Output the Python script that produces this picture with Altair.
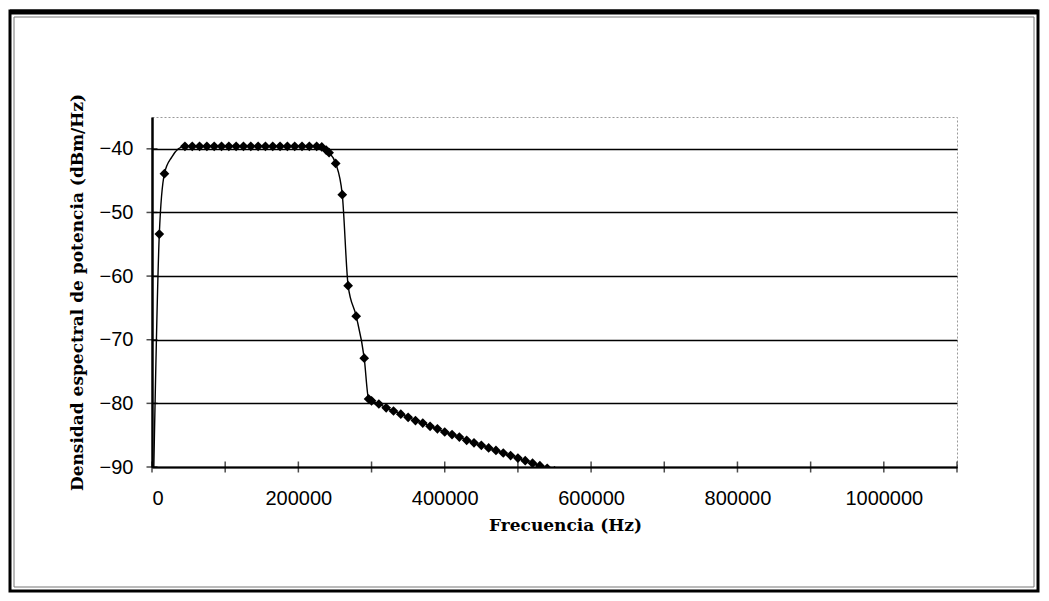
import altair as alt
import pandas as pd

# Measured points (with diamond markers)
freq_hz = [10000, 17000,
           45000, 55000, 65000, 75000, 85000, 95000, 105000, 115000, 125000, 135000,
           145000, 155000, 165000, 175000, 185000, 195000, 205000, 215000, 225000,
           232000, 238000, 242000, 251000, 260000, 268000, 279000, 290000, 296000,
           300000, 310000, 320000, 330000, 340000, 350000, 360000, 370000, 380000,
           390000, 400000, 410000, 420000, 430000, 440000, 450000, 460000, 470000,
           480000, 490000, 500000, 510000, 520000, 530000, 540000, 550000]
psd_dbm = [-53.4, -43.9,
           -39.6, -39.6, -39.6, -39.6, -39.6, -39.6, -39.6, -39.6, -39.6, -39.6,
           -39.6, -39.6, -39.6, -39.6, -39.6, -39.6, -39.6, -39.6, -39.6,
           -39.7, -40.2, -40.6, -42.3, -47.2, -61.5, -66.3, -72.9, -79.3,
           -79.6, -80.1, -80.7, -81.2, -81.7, -82.2, -82.7, -83.1, -83.6,
           -84.0, -84.5, -84.9, -85.3, -85.8, -86.2, -86.6, -87.0, -87.4,
           -87.8, -88.2, -88.6, -89.0, -89.4, -89.8, -90.2, -90.6]

# Points of the smoothed curve that carry no marker
curve_freq = [1500, 27000, 36000]
curve_psd = [-96.0, -41.3, -40.0]

x_tick_values = [0, 100000, 200000, 300000, 400000, 500000, 600000, 700000,
                 800000, 900000, 1000000, 1100000]
x_label_values = [0, 200000, 400000, 600000, 800000, 1000000]
y_tick_values = [-90, -80, -70, -60, -50, -40]

X_DOMAIN = [0, 1100000]
Y_DOMAIN = [-90, -35]

W, H = 805, 350

pts = pd.DataFrame({"f": freq_hz, "p": psd_dbm})
curve = pd.concat([pts, pd.DataFrame({"f": curve_freq, "p": curve_psd})]).sort_values("f")

xs = alt.Scale(domain=X_DOMAIN, nice=False, zero=False)
ys = alt.Scale(domain=Y_DOMAIN, nice=False, zero=False)

x_axis = alt.Axis(values=x_label_values, format="d", ticks=False, grid=False,
                  domainColor="black", domainWidth=2, labelFont="Liberation Sans",
                  labelFontSize=20, labelColor="black", labelPadding=21,
                  title="Frecuencia (Hz)", titleFont="DejaVu Serif", titleFontSize=17,
                  titleFontWeight="bold", titleColor="black", titleX=413, titleY=50,
                  titleBaseline="top")
y_axis = alt.Axis(values=y_tick_values, ticks=False, grid=True, gridColor="black",
                  gridWidth=1.6, domainColor="black", domainWidth=2.5,
                  labelFont="Liberation Sans", labelFontSize=20, labelColor="black",
                  labelPadding=19, title="Densidad espectral de potencia (dBm/Hz)",
                  titleFont="DejaVu Serif", titleFontSize=17, titleFontWeight="bold",
                  titleColor="black", titleX=-75, titleY=H / 2, titleBaseline="middle",
                  titleAngle=270, titleAlign="center")

line = alt.Chart(curve).mark_line(color="black", strokeWidth=1.4, interpolate="monotone",
                                  clip=True).encode(
    x=alt.X("f:Q", scale=xs, axis=x_axis),
    y=alt.Y("p:Q", scale=ys, axis=y_axis),
)

points = alt.Chart(pts).mark_point(shape="diamond", filled=True, color="black", size=95,
                                   opacity=1, clip=True).encode(
    x=alt.X("f:Q", scale=xs),
    y=alt.Y("p:Q", scale=ys),
)

xticks = alt.Chart(pd.DataFrame({"t": x_tick_values})).mark_tick(
    orient="vertical", color="black", thickness=1.5, size=11).encode(
    x=alt.X("t:Q", scale=xs),
    y=alt.datum(-90, scale=ys),
)

yticks = alt.Chart(pd.DataFrame({"t": y_tick_values})).mark_tick(
    orient="horizontal", color="black", thickness=1.5, size=11).encode(
    y=alt.Y("t:Q", scale=ys),
    x=alt.datum(0, scale=xs),
)

one = pd.DataFrame({"k": [0]})
frame_outer = alt.Chart(one).mark_rect(filled=False, stroke="black", strokeWidth=3).encode(
    x=alt.value(-142), x2=alt.value(886), y=alt.value(-106), y2=alt.value(474))
frame_inner = alt.Chart(one).mark_rect(filled=False, stroke="#777", strokeWidth=1).encode(
    x=alt.value(-138), x2=alt.value(882), y=alt.value(-100), y2=alt.value(470))
frame_top = alt.Chart(one).mark_rule(color="black", strokeWidth=5).encode(
    x=alt.value(-142), x2=alt.value(886), y=alt.value(-105))

chart = alt.layer(frame_outer, frame_inner, frame_top, line, points, xticks, yticks).properties(
    width=W, height=H,
    autosize=alt.AutoSizeParams(type="none"),
    padding={"left": 144, "top": 109, "right": 84, "bottom": 126},
    background="white",
).configure_view(stroke="#999", strokeWidth=1, strokeDash=[2, 2])

chart.save("out.html", embed_options={"renderer": "svg", "actions": False})
